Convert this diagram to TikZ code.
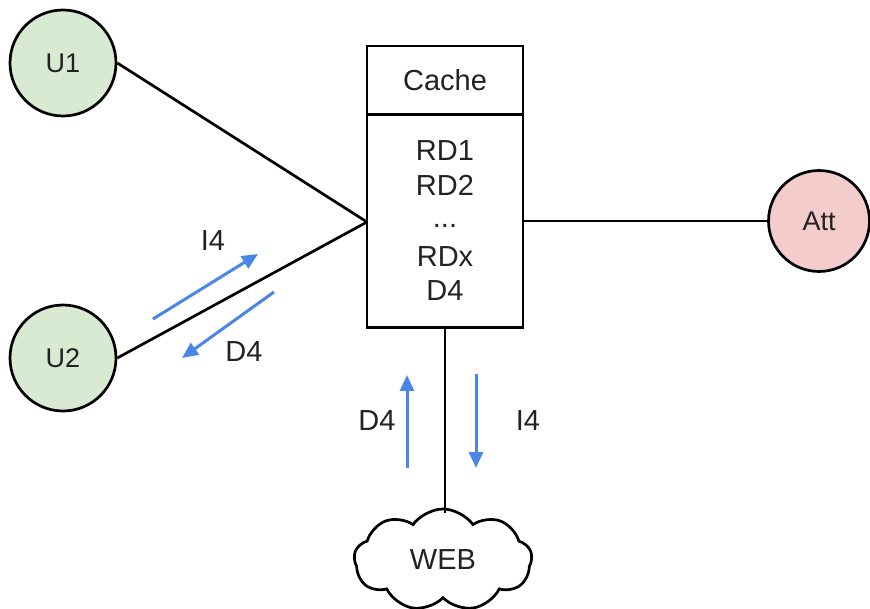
\documentclass[tikz,border=0pt]{standalone}
\usepackage{fontspec}
\setmainfont{Liberation Sans}
\usetikzlibrary{shapes.symbols,arrows.meta}
\definecolor{ugreen}{HTML}{D9EAD3}
\definecolor{apink}{HTML}{F4CCCC}
\definecolor{ablue}{HTML}{4A86E8}
\definecolor{txt}{HTML}{222222}
\begin{document}
\begin{tikzpicture}[x=1pt,y=-1pt,
  lbl/.style={font=\fontsize{29}{34}\selectfont, text=txt, inner sep=0pt},
  party/.style={circle, draw=black, line width=2.7pt, minimum size=106pt, inner sep=0pt, font=\fontsize{27}{32}\selectfont, text=txt},
  boxpart/.style={draw=black, line width=2.7pt, minimum width=156pt, inner sep=0pt},
  wire/.style={draw=black, line width=2.7pt},
  flow/.style={draw=ablue, line width=3pt, -{Triangle[length=16pt,width=14pt]}}]
\useasboundingbox (0,0) rectangle (870,609);
% parties
\node[party, fill=ugreen] (U1) at (63,63) {U1};
\node[party, fill=ugreen] (U2) at (63,358) {U2};
\node[party, fill=apink, minimum size=101pt] (Att) at (819,221) {Att};
% cache box
\node[boxpart, minimum height=68pt] (cache) at (445,80) {};
\node[boxpart, minimum height=213pt] (store) at (445,221) {};
\node[lbl] (tcache) at (445,80) {Cache};
\node[lbl] (rd1) at (445,151) {RD1};
\node[lbl] (rd2) at (445,185) {RD2};
\node[lbl] (dots) at (445,226) {...};
\node[lbl] (rdx) at (445,257) {RDx};
\node[lbl] (d4b) at (445,291) {D4};
% web
\node[cloud, draw=black, line width=2.7pt, cloud puffs=9, cloud puff arc=110, aspect=1.9, minimum width=178pt, minimum height=102pt, inner sep=0pt, font=\fontsize{29}{34}\selectfont, text=txt] (web) at (443,560) {WEB};
% connectors
\coordinate (hub) at (367,222);
\draw[wire] (U1.east) -- (hub);
\draw[wire] (U2.east) -- (hub);
\draw[wire] (store.east) -- (Att.west);
\coordinate (webtop) at (445,513);
\draw[wire] (store.south) -- (webtop);
% flows
\coordinate (i4s) at (153,319);
\coordinate (i4e) at (258,254);
\coordinate (d4s) at (274,292);
\coordinate (d4e) at (182,358);
\coordinate (upS) at (407,468);
\coordinate (upE) at (407,375);
\coordinate (dnS) at (476,374);
\coordinate (dnE) at (476,468);
\draw[flow] (i4s) -- (i4e);
\draw[flow] (d4s) -- (d4e);
\draw[flow] (upS) -- (upE);
\draw[flow] (dnS) -- (dnE);
\node[lbl] (li4) at (213,241) {I4};
\node[lbl] (ld4) at (244,352) {D4};
\node[lbl] (ld4v) at (377,421) {D4};
\node[lbl] (li4v) at (528,421) {I4};
\end{tikzpicture}
\end{document}
